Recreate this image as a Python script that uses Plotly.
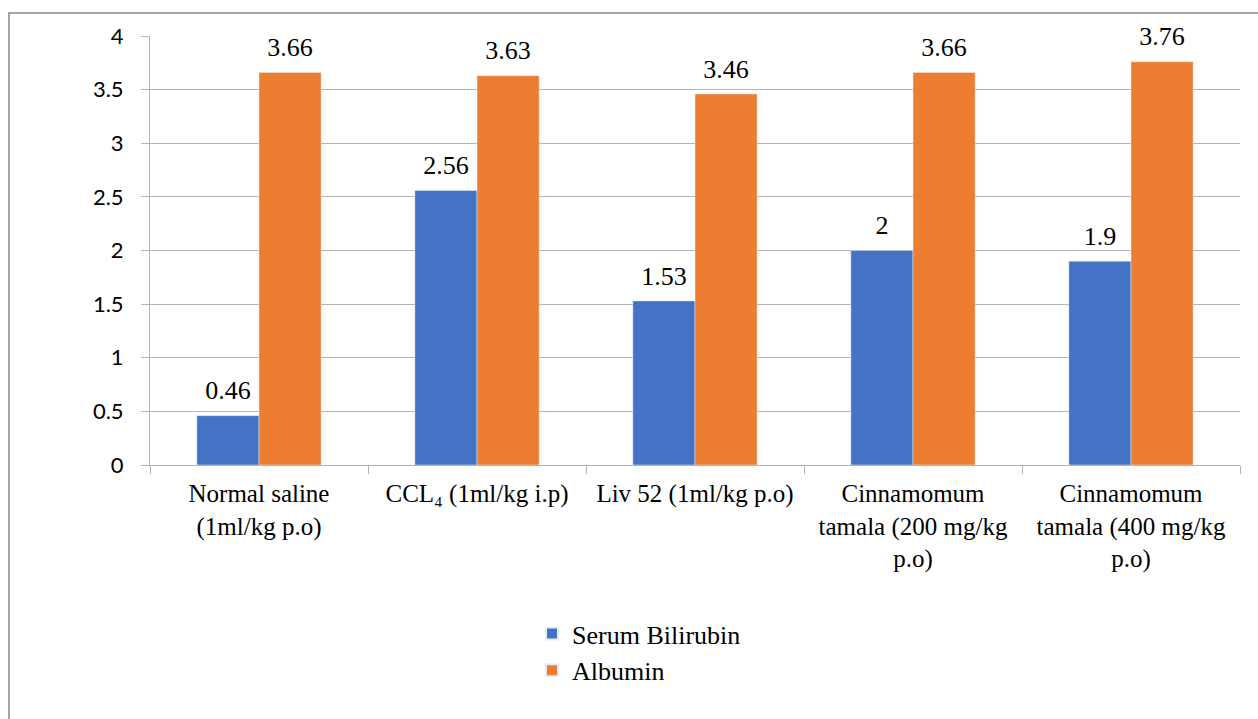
import plotly.graph_objects as go

categories = ["Normal saline<br>(1ml/kg p.o)", "CCL₄ (1ml/kg i.p)", "Liv 52 (1ml/kg p.o)",
              "Cinnamomum<br>tamala (200 mg/kg<br>p.o)", "Cinnamomum<br>tamala (400 mg/kg<br>p.o)"]
serum_bilirubin = [0.46, 2.56, 1.53, 2, 1.9]
albumin = [3.66, 3.63, 3.46, 3.66, 3.76]
y_ticks = [0, 0.5, 1, 1.5, 2, 2.5, 3, 3.5, 4]

W, H = 1258, 719
L, R, T, B = 150, 18, 36, 254
pw, ph = W - L - R, H - T - B

serif = "Liberation Serif"
GAP = 0.43
series = [("Serum Bilirubin", serum_bilirubin, "#4472C4", "a"),
          ("Albumin", albumin, "#ED7D31", "b")]

fig = go.Figure()
for name, vals, col, grp in series:
    fig.add_trace(go.Bar(name=name, x=categories, y=vals, marker_color=col,
                         offsetgroup=grp))
for name, vals, col, grp in series:
    fig.add_trace(go.Scatter(x=categories, y=vals, mode="markers+text", offsetgroup=grp,
                             text=[str(v) for v in vals], textposition="top center",
                             marker=dict(size=14, opacity=0), showlegend=False,
                             hoverinfo="skip", cliponaxis=False,
                             textfont=dict(family=serif, size=26, color="black")))

fig.update_layout(
    width=W, height=H,
    margin=dict(l=L, r=R, t=T, b=B, autoexpand=False),
    paper_bgcolor="white", plot_bgcolor="white",
    barmode="group", bargap=GAP, bargroupgap=0,
    scattermode="group", scattergap=GAP,
    legend=dict(orientation="v", x=(532 - L) / pw, xanchor="left",
                y=(H - B - 610) / ph, yanchor="top",
                font=dict(family=serif, size=26, color="black"),
                itemsizing="constant", tracegroupgap=0),
    shapes=[dict(type="rect", xref="paper", yref="paper",
                 x0=(9 - L) / pw, x1=1.2, y0=-1.0, y1=(H - B - 13) / ph,
                 line=dict(color="#a6a6a6", width=2), fillcolor="rgba(0,0,0,0)", layer="below")],
)
fig.update_yaxes(range=[0, 4], tickvals=y_ticks, ticktext=[str(v) for v in y_ticks],
                 showgrid=True, gridcolor="#b4b4b4", gridwidth=1,
                 showline=True, linecolor="#b4b4b4", linewidth=1,
                 ticks="outside", ticklen=8, tickcolor="#b4b4b4",
                 tickfont=dict(family="Lato", size=22, color="black"),
                 ticklabelstandoff=13, zeroline=False)
fig.update_xaxes(showline=True, linecolor="#b4b4b4", linewidth=1,
                 ticks="outside", ticklen=8, tickcolor="#b4b4b4", tickson="boundaries",
                 tickfont=dict(family=serif, size=25, color="black"), tickangle=0,
                 ticklabelstandoff=6)

fig.write_html("out.html", config={"displayModeBar": False},
               post_script="document.body.style.margin='0';")
